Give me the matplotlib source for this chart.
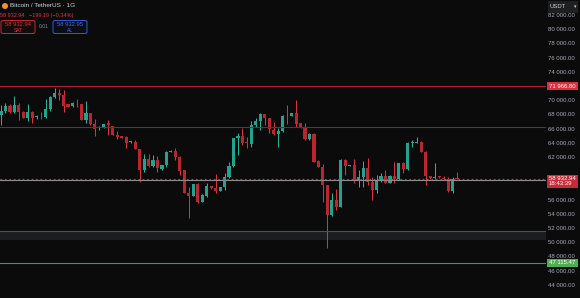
import matplotlib.pyplot as plt
import matplotlib.transforms as mtransforms
from matplotlib.patches import Rectangle, FancyBboxPatch, Circle

# BTC/USDT daily candles
opens = [67873, 68479, 69183, 68338, 69324, 68338, 67535, 68338, 67634, 67817,
         67676, 68718, 70408, 70972, 70732, 69465, 69183, 69493, 69465, 67211,
         68197, 66648, 66084, 66126, 66746, 66366, 65098, 64957, 64859, 64070,
         64155, 63126, 60168, 61718, 60774, 61577, 60309, 60873, 62746, 62887,
         62042, 60168, 56887, 56549, 58197, 55704, 56549, 57915, 57591, 57253,
         57732, 59140, 60732, 64633, 64957, 64042, 63831, 66507, 67070, 68056,
         67535, 65802, 65239, 65704, 68056, 67774, 68155, 66746, 66183, 64535,
         65239, 61436, 60549, 58056, 53830, 55943, 54999, 61577, 60774, 60873,
         58760, 59225, 60492, 58521, 57351, 58760, 59366, 58380, 59323, 58859,
         61112, 60267, 63929, 64014, 64112, 62746, 59323, 58999, 59323, 59084,
         58859, 57211, 59084]
highs = [69324, 69563, 69465, 70591, 69605, 68479, 69465, 68479, 67915, 68338,
         70211, 70591, 71676, 71577, 71436, 69535, 69676, 70169, 69535, 69887,
         68267, 67352, 66366, 66718, 67211, 66436, 65662, 65000, 64957, 64253,
         64394, 63169, 62422, 62422, 62281, 62140, 60943, 62887, 62943, 63225,
         62140, 60239, 57816, 58267, 58380, 56718, 58295, 57985, 59605, 57774,
         59704, 61338, 64718, 65338, 66126, 64859, 67112, 67450, 68155, 68098,
         67563, 66972, 66042, 67915, 69324, 68197, 70028, 66788, 66746, 65310,
         65422, 61507, 61014, 58098, 56887, 57450, 61676, 61676, 60943, 61676,
         60168, 61436, 61816, 59225, 59464, 59704, 60168, 59464, 61295, 61183,
         61338, 64070, 64394, 64859, 64183, 62802, 59366, 61112, 59366, 59323,
         59225, 59225, 59929]
lows = [66507, 68155, 68197, 68197, 67211, 67493, 67112, 66788, 67352, 67352,
        67535, 68521, 70352, 70028, 68380, 69042, 69112, 69084, 67141, 66831,
        66577, 65000, 65802, 66042, 65098, 65028, 64493, 64676, 63225, 64014,
        63084, 58521, 59929, 60549, 60549, 59929, 60239, 60549, 62704, 61577,
        59464, 56929, 53365, 56506, 55478, 55661, 56323, 57535, 56971, 57211,
        57351, 58999, 60549, 62281, 63690, 63225, 63450, 66267, 65802, 66507,
        65338, 65098, 63366, 65563, 66605, 67732, 66267, 66126, 64394, 64464,
        61295, 60591, 55704, 49182, 53760, 54534, 54915, 59464, 60732, 58295,
        57732, 57816, 58056, 55943, 56887, 58521, 58295, 58337, 58380, 58760,
        59704, 60168, 63450, 63929, 62704, 58056, 58943, 58859, 59084, 58760,
        57112, 56971, 58859]
closes = [68479, 69183, 68338, 69324, 68338, 67535, 68338, 67535, 67732, 67732,
          68803, 70408, 71014, 70732, 69225, 69084, 69605, 69422, 67211, 68197,
          66648, 65943, 66155, 66648, 66507, 65098, 64774, 64718, 64014, 64211,
          63126, 60168, 61718, 60774, 61577, 60408, 60873, 62746, 62887, 62042,
          60070, 56971, 56549, 58197, 55704, 56647, 57957, 57591, 57253, 57732,
          59140, 60732, 64633, 64957, 63929, 63971, 66507, 67070, 68056, 67535,
          65901, 65197, 65704, 67774, 67986, 68155, 66648, 66183, 64493, 65239,
          61338, 60633, 58056, 53830, 55943, 54999, 61577, 60732, 60873, 58760,
          59225, 60492, 58521, 57351, 58760, 59366, 58380, 59366, 58859, 61112,
          60267, 64014, 64112, 64155, 62746, 59323, 58999, 59225, 59140, 58859,
          57211, 58859, 58932.94]

last_price = 58932.94
ask_price = 58932.95
alert_high = 71966.80
alert_low = 47115.47
mid_level = 66225
support_level = 58760
zone_top = 51580
zone_bottom = 50310
countdown = "18:43:39"

y_ticks = [82000, 80000, 78000, 76000, 74000, 70000, 68000, 66000, 64000,
           62000, 56000, 54000, 52000, 50000, 48000, 46000, 44000]

BG = "#0b0b0c"
UP = "#22a392"
UP_WICK = "#2bb8a3"
DOWN = "#b9262f"
DOWN_WICK = "#e23443"
TXT = "#a9acb4"

fig = plt.figure(figsize=(5.8, 2.98), dpi=100, facecolor=BG)
ax = fig.add_axes([0, 0, 546 / 580, 1])
ax.set_facecolor(BG)

y_min, y_max = 42140, 84113
price_per_px = (y_max - y_min) / 298
ax.set_ylim(y_min, y_max)
ax.set_xlim(-0.224, 121.9)

# candles
idx = range(len(closes))
for i, o, h, l, c in zip(idx, opens, highs, lows, closes):
    up = c >= o
    ax.vlines(i, l, h, color=UP_WICK if up else DOWN_WICK, lw=0.7, zorder=2)
    ax.bar(i, max(abs(c - o), 110), bottom=min(o, c), width=0.7,
           color=UP if up else DOWN, linewidth=0, zorder=3)

# drawn levels
ax.axhspan(zone_bottom, zone_top, color="#1c1d1f", lw=0, zorder=1)
ax.axhline(zone_top, color="#3f5a49", lw=0.8, zorder=4)
ax.axhline(alert_high, color="#b0222d", lw=0.8, zorder=4)
ax.axhline(mid_level, color="#404142", lw=0.8, zorder=4)
ax.axhline(support_level, color="#8d8e90", lw=0.8, zorder=4)
ax.axhline(last_price, color="#d7303f", lw=0.8, ls=(0, (1.5, 2.5)), zorder=5)
ax.axhline(alert_low, color="#3e9a4c", lw=0.8, zorder=4)

# price scale on the right
ax.yaxis.tick_right()
ax.set_yticks(y_ticks)
ax.set_yticklabels([f"{v:,.2f}".replace(",", " ") for v in y_ticks])
ax.tick_params(axis="y", length=0, pad=1.6, labelsize=4.3, labelcolor=TXT)
for lab in ax.get_yticklabels():
    lab.set_fontfamily("Liberation Sans")
ax.set_xticks([])
for s in ax.spines.values():
    s.set_visible(False)

tag_tr = mtransforms.blended_transform_factory(fig.transFigure, ax.transData)
x0, w = 546.5 / 580, 31.5 / 580
tx = 549 / 580


def price_tag(price, lines, face, color="white", above=4, below=4):
    ax.add_patch(Rectangle((x0, price - below * price_per_px), w,
                           (above + below) * price_per_px, facecolor=face,
                           lw=0, transform=tag_tr, clip_on=False, zorder=6))
    for k, t in enumerate(lines):
        ax.text(tx, price - k * 5.2 * price_per_px, t, transform=tag_tr,
                fontsize=4.3, color=color, family="Liberation Sans",
                va="center", ha="left", clip_on=False, zorder=7)


price_tag(alert_high, [f"{alert_high:,.2f}".replace(",", " ")], "#d9303e")
price_tag(last_price, [f"{last_price:,.2f}".replace(",", " "), countdown],
          "#c92a39", above=4, below=9)
price_tag(alert_low, [f"{alert_low:,.2f}".replace(",", " ")], "#4caf50")

# header, positioned in pixels from the top-left corner
px = mtransforms.Affine2D().scale(1 / 580, -1 / 298).translate(0, 1) + fig.transFigure

fig.patches.append(Rectangle((548, 1), 30, 12, facecolor="#1e1f21", lw=0,
                             transform=px, figure=fig))
fig.text(550, 7, "USDT", transform=px, fontsize=4.2, color="#d1d4dc",
         va="center", family="Liberation Sans")
fig.text(575, 7, "▾", transform=px, fontsize=3.5, color="#d1d4dc",
         va="center", ha="center")

fig.patches.append(Circle((5, 6), 3, facecolor="#f7931a", lw=0,
                          transform=px, figure=fig))
fig.text(10, 5.5, "Bitcoin / TetherUS · 1G", transform=px, fontsize=4.6,
         color="#d1d4dc", va="center", family="Liberation Sans")
fig.text(0.5, 15, f"{last_price:,.2f}   −199.19 (−0.34%)".replace(",", " ", 1),
         transform=px, fontsize=4.0, color="#e0323f", va="center",
         family="Liberation Sans")

fig.patches.append(FancyBboxPatch((1, 20.5), 34, 13, transform=px, figure=fig,
                                  boxstyle="round,pad=0,rounding_size=2",
                                  facecolor="#150a0c", edgecolor="#c42a38", lw=0.7))
fig.text(18, 24.5, f"{last_price:,.2f}".replace(",", " "), transform=px,
         fontsize=4.2, color="#e0323f", ha="center", va="center",
         family="Liberation Sans")
fig.text(18, 30, "SAT", transform=px, fontsize=3.6, color="#e0323f",
         ha="center", va="center", family="Liberation Sans")

fig.text(43.5, 27, f"{ask_price - last_price:.2f}", transform=px, fontsize=3.6,
         color="#8a8d95", ha="center", va="center", family="Liberation Sans")

fig.patches.append(FancyBboxPatch((53, 20.5), 34, 13, transform=px, figure=fig,
                                  boxstyle="round,pad=0,rounding_size=2",
                                  facecolor="#0a0d18", edgecolor="#2f5bd8", lw=0.7))
fig.text(70, 24.5, f"{ask_price:,.2f}".replace(",", " "), transform=px,
         fontsize=4.2, color="#3f6fe8", ha="center", va="center",
         family="Liberation Sans")
fig.text(70, 30, "AL", transform=px, fontsize=3.6, color="#3f6fe8",
         ha="center", va="center", family="Liberation Sans")

fig.savefig("out.png", dpi=100, facecolor=BG)
